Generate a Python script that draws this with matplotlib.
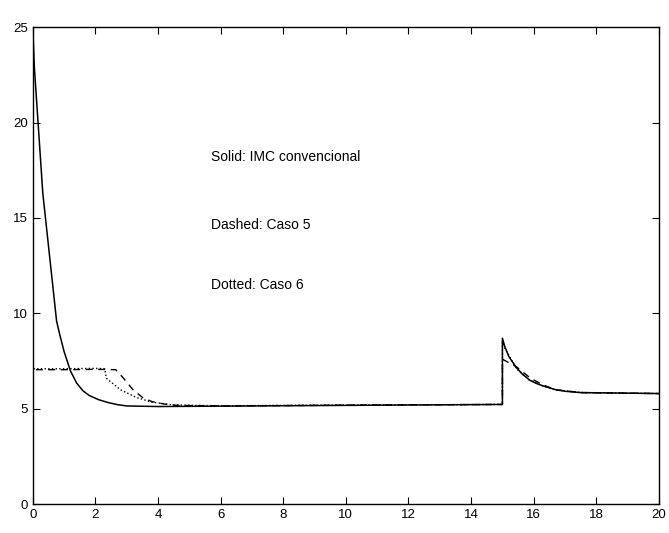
import matplotlib.pyplot as plt
import numpy as np

# Solid: IMC convencional
t_solid = [0, 0, 0.05, 0.32, 0.76, 0.86, 1.0, 1.2, 1.4, 1.6, 1.8, 2.1, 2.4, 2.7, 3.0, 4, 6, 8, 10, 12, 14, 15,
           15, 15.07, 15.2, 15.45, 15.65, 15.87, 16.1, 16.3, 16.7, 17.0, 17.5, 20]
y_solid = [0, 25, 22.9, 16.3, 9.6, 8.9, 8.0, 7.0, 6.35, 5.95, 5.7, 5.48, 5.33, 5.22, 5.15, 5.12, 5.14, 5.16, 5.18, 5.2, 5.22, 5.23,
           8.7, 8.3, 7.75, 7.15, 6.8, 6.5, 6.32, 6.2, 6.0, 5.92, 5.85, 5.8]

# Dashed: Caso 5
t_dash = [0, 0, 1.0, 2.0, 2.65, 2.9, 3.2, 3.5, 3.8, 4.2, 4.6, 6, 8, 10, 12, 14, 15,
          15, 15.45, 15.9, 16.3, 16.7, 17.5, 20]
y_dash = [0, 7.05, 7.05, 7.07, 7.05, 6.6, 6.0, 5.6, 5.38, 5.25, 5.18, 5.15, 5.17, 5.19, 5.21, 5.22, 5.23,
          7.6, 7.2, 6.6, 6.25, 6.0, 5.85, 5.8]

# Dotted: Caso 6
t_dot = [0, 0, 1.0, 2.0, 2.3, 2.35, 2.8, 3.3, 3.8, 4.5, 6, 8, 10, 12, 14, 15,
         15, 15.07, 15.45, 15.87, 16.3, 16.7, 17.5, 20]
y_dot = [0, 7.1, 7.1, 7.12, 7.1, 6.6, 6.0, 5.6, 5.35, 5.2, 5.16, 5.18, 5.2, 5.21, 5.22, 5.23,
         8.6, 8.2, 7.1, 6.5, 6.2, 6.0, 5.85, 5.8]

plt.rcParams['font.family'] = ['Liberation Sans', 'DejaVu Sans']

fig = plt.figure(figsize=(6.69, 5.33), dpi=100)
ax = fig.add_axes([0.049, 0.054, 0.936, 0.895])

ax.plot(t_solid, y_solid, color='black', linewidth=1.1, linestyle='-')
ax.plot(t_dash, y_dash, color='black', linewidth=1.0, linestyle='--', dashes=(5, 4))
ax.plot(t_dot, y_dot, color='black', linewidth=1.0, linestyle=':')

ax.text(5.7, 18.0, 'Solid: IMC convencional', fontsize=10)
ax.text(5.7, 14.4, 'Dashed: Caso 5', fontsize=10)
ax.text(5.7, 11.3, 'Dotted: Caso 6', fontsize=10)

ax.set_xlim(0, 20)
ax.set_ylim(0, 25)
ax.set_xticks(np.arange(0, 21, 2))
ax.set_yticks(np.arange(0, 26, 5))
ax.tick_params(direction='in', top=True, right=True, labelsize=9.5, length=5)
for s in ax.spines.values():
    s.set_linewidth(1.0)

fig.savefig('out.png', dpi=100)
